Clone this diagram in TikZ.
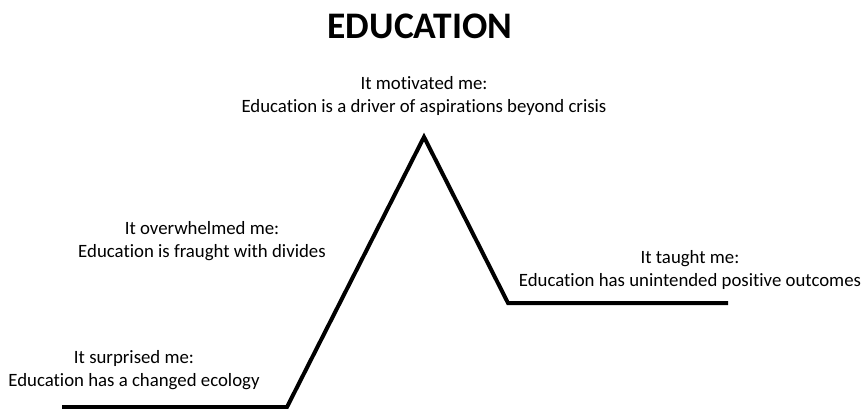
\documentclass[tikz,border=0pt]{standalone}
\usepackage{fontspec}
\setmainfont[Ligatures=NoCommon]{Carlito}
\usetikzlibrary{positioning}

\begin{document}
\begin{tikzpicture}[x=1pt,y=-1pt]
\tikzset{label/.style={align=center,font=\fontsize{18.8}{23}\selectfont,inner sep=0pt}}
\useasboundingbox (0,0) rectangle (867,409);
\node[font=\bfseries\fontsize{37.5}{40}\selectfont] (title) at (420,26) {EDUCATION};
\node[label] (motivated) at (424,96) {It motivated me:\\Education is a driver of aspirations beyond crisis};
\node[label] (overwhelmed) at (202,241) {It overwhelmed me:\\Education is fraught with divides};
\node[label] (taught) at (690,270) {It taught me:\\Education has unintended positive outcomes};
\node[label] (surprised) at (134,370) {It surprised me:\\Education has a changed ecology};
\coordinate (start) at (62,407);
\coordinate (low) at (287,407);
\coordinate (peak) at (424,137);
\coordinate (dip) at (508,303);
\coordinate (end) at (728,303);

\draw[line width=4pt,line join=miter] (start) -- (low) -- (peak) -- (dip) -- (end);
\end{tikzpicture}
\end{document}
